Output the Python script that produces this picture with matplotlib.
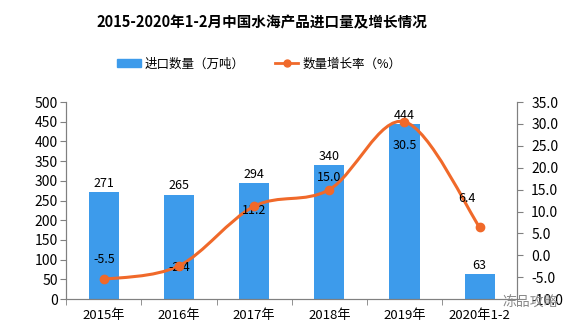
import numpy as np
import matplotlib.pyplot as plt
from matplotlib.path import Path
from matplotlib.patches import PathPatch, Patch
from matplotlib.lines import Line2D

plt.rcParams['font.family'] = ['Noto Sans CJK SC', 'DejaVu Sans']

categories = ['2015年', '2016年', '2017年', '2018年', '2019年', '2020年1-2']
volume = [271, 265, 294, 340, 444, 63]
growth = [-5.5, -2.4, 11.2, 15.0, 30.5, 6.4]

bar_color = '#3D9BEB'
line_color = '#F0692A'

fig = plt.figure(figsize=(5.76, 3.28), dpi=100)
ax = fig.add_axes([0.115, 0.088, 0.783, 0.601])
ax2 = ax.twinx()

x = np.arange(len(categories))
ax.bar(x, volume, width=0.4, color=bar_color, zorder=2)
for xi, v in zip(x, volume):
    ax.text(xi, v + 6, str(v), ha='center', va='bottom', fontsize=9)

ax.set_xlim(-0.5, len(categories) - 0.5)
ax.set_ylim(0, 500)
ax.set_yticks(np.arange(0, 501, 50))
ax.set_xticks(x)
ax.set_xticklabels(categories, fontsize=9.5)
ax.set_xticks(np.arange(-0.5, len(categories), 1), minor=True)
ax.tick_params(axis='x', which='major', length=0, pad=7)
ax.tick_params(axis='x', which='minor', length=4, color='#808080')
ax.tick_params(axis='y', labelsize=10, length=4, color='#808080', pad=2)

ax2.set_ylim(-10, 35)
ax2.set_yticks(np.arange(-10, 36, 5))
ax2.set_yticklabels(['%.1f' % t for t in np.arange(-10, 36, 5)])
ax2.tick_params(axis='y', labelsize=10, length=4, color='#808080', pad=6)

for a in (ax, ax2):
    a.spines['top'].set_visible(False)
    for s in ('left', 'right', 'bottom'):
        a.spines[s].set_color('#808080')

# smooth line (Catmull-Rom as cubic Bezier segments)
pts = np.column_stack([x, growth]).astype(float)
verts = [pts[0]]
codes = [Path.MOVETO]
n = len(pts)
for i in range(n - 1):
    p0 = pts[max(i - 1, 0)]
    p1 = pts[i]
    p2 = pts[i + 1]
    p3 = pts[min(i + 2, n - 1)]
    c1 = p1 + (p2 - p0) / 6
    c2 = p2 - (p3 - p1) / 6
    verts += [c1, c2, p2]
    codes += [Path.CURVE4] * 3
ax2.add_patch(PathPatch(Path(verts, codes), fill=False, edgecolor=line_color,
                        lw=2.2, zorder=3))
ax2.plot(x, growth, 'o', color=line_color, ms=6, zorder=4)

label_offsets = [(0, 14), (0, -1.5), (0, -3), (0, 9), (0, -17), (-9, 21)]
for xi, g, off in zip(x, growth, label_offsets):
    ax2.annotate('%.1f' % g, (xi, g), xytext=off, textcoords='offset points',
                 ha='center', va='center', fontsize=9)

fig.text(0.455, 0.933, '2015-2020年1-2月中国水海产品进口量及增长情况',
         ha='center', va='center', fontsize=10.5, fontweight='bold')

handles = [Patch(color=bar_color),
           Line2D([0], [0], color=line_color, lw=2, marker='o', ms=5)]
fig.legend(handles, ['进口数量（万吨）', '数量增长率（%）'], loc='center',
           bbox_to_anchor=(0.45, 0.805), ncol=2, frameon=False, fontsize=9,
           handlelength=1.9, columnspacing=2.4, handletextpad=0.3)

fig.text(0.92, 0.076, '冻品攻略', ha='center', va='center', fontsize=10,
         color='#8a8a8a')

fig.savefig('out.png', dpi=100)
